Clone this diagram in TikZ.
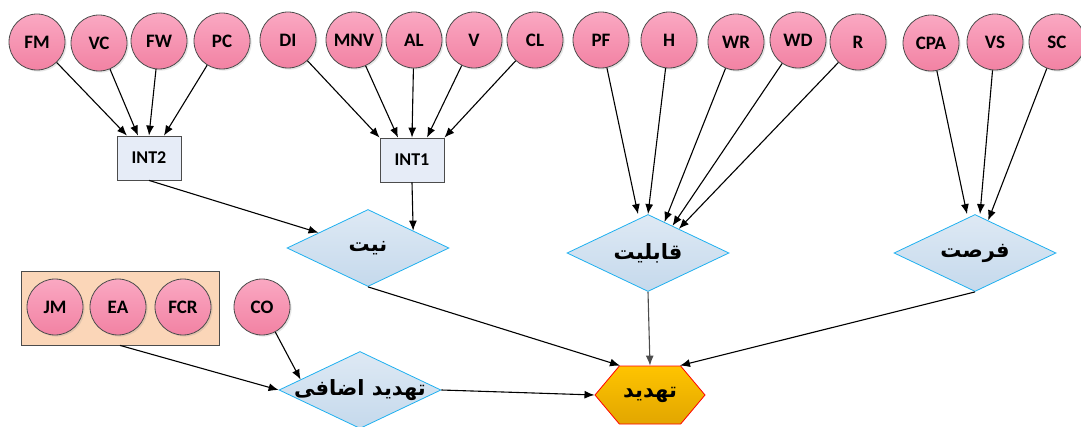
\documentclass[tikz,border=0pt]{standalone}
\usepackage{fontspec}
\setmainfont{Carlito}
\newfontfamily\farsi[Script=Arabic]{DejaVu Sans}
\TeXXeTstate=1
\usetikzlibrary{shapes,shadows,arrows.meta}
\definecolor{pinktop}{RGB}{250,168,194}
\definecolor{pinkbot}{RGB}{242,130,163}
\definecolor{intfill}{RGB}{230,236,247}
\definecolor{dmtop}{RGB}{222,233,244}
\definecolor{dmbot}{RGB}{197,217,236}
\definecolor{dmline}{RGB}{30,176,240}
\definecolor{hxtop}{RGB}{255,196,0}
\definecolor{hxbot}{RGB}{226,166,0}
\definecolor{peach}{RGB}{251,214,184}

\begin{document}
\begin{tikzpicture}[x=0.5pt,y=-0.5pt,>={Latex[length=5pt,width=4pt]}]
\tikzstyle{var}=[circle,draw=black!70,top color=pinktop,bottom color=pinkbot,minimum size=28pt,inner sep=0pt,font=\bfseries\fontsize{9.5}{11}\selectfont,drop shadow={opacity=0.2,shadow xshift=0.8pt,shadow yshift=-0.8pt}]
\tikzstyle{intbox}=[rectangle,draw=black!70,fill=intfill,minimum width=32pt,minimum height=22pt,font=\bfseries\fontsize{9}{11}\selectfont]
\tikzstyle{factor}=[diamond,aspect=2.1,draw=dmline,top color=dmtop,bottom color=dmbot,minimum width=81pt,minimum height=38.5pt,inner sep=0pt,inner xsep=-8pt,font=\farsi\bfseries\fontsize{10.5}{12}\selectfont]
\tikzstyle{threat}=[signal,signal to=east and west,signal pointer angle=100,draw=red,top color=hxtop,bottom color=hxbot,minimum width=55pt,minimum height=29pt,inner sep=0pt,font=\farsi\bfseries\fontsize{10.5}{12}\selectfont]
\tikzstyle{grpbox}=[rectangle,draw=black!70,fill=peach,minimum width=99pt,minimum height=37pt]
\tikzstyle{link}=[->,line width=0.55pt]
\useasboundingbox (0,0) rectangle (1081,427);

\node[var] (fm) at (37,42) {FM};
\node[var] (vc) at (99,43) {VC};
\node[var] (fw) at (159,41) {FW};
\node[var] (pc) at (222,41) {PC};
\node[var] (di) at (288,40) {DI};
\node[var] (mnv) at (354,40) {MNV};
\node[var] (al) at (414,40) {AL};
\node[var] (v) at (474,40) {V};
\node[var] (cl) at (535,40) {CL};
\node[var] (pf) at (601,40) {PF};
\node[var] (h) at (669,40) {H};
\node[var] (wr) at (736,42) {WR};
\node[var] (wd) at (798,40) {WD};
\node[var] (r) at (858,42) {R};
\node[var] (cpa) at (931,43) {CPA};
\node[var] (vs) at (995,42) {VS};
\node[var] (sc) at (1057,42) {SC};

\node[intbox] (int2) at (149,158) {INT2};
\node[intbox] (int1) at (412,160) {INT1};

\node[factor] (niyat) at (368,248) {\beginR نیت\endR};
\node[factor] (ghabel) at (648,253) {\beginR قابلیت\endR};
\node[factor] (forsat) at (975,253) {\beginR فرصت\endR};
\node[factor] (ezafi) at (360,390) {\beginR تهدید اضافی\endR};
\node[threat] (tahdid) at (650,395) {\beginR تهدید\endR};

\node[grpbox] (grp) at (120,308) {};
\node[var] (jm) at (55,307) {JM};
\node[var] (ea) at (118,307) {EA};
\node[var] (fcr) at (183,307) {FCR};
\node[var] (co) at (262,307) {CO};

\draw[link] (fm) -- ([xshift=-11pt]int2.north);
\draw[link] (vc) -- ([xshift=-5.5pt]int2.north);
\draw[link] (fw) -- (int2.north);
\draw[link] (pc) -- ([xshift=7.5pt]int2.north);
\draw[link] (di) -- (int1.north west);
\draw[link] (mnv) -- ([xshift=-7pt]int1.north);
\draw[link] (al) -- (int1.north);
\draw[link] (v) -- ([xshift=7.5pt]int1.north);
\draw[link] (cl) -- (int1.north east);
\draw[link] (pf) -- ([xshift=-5pt]ghabel.north);
\draw[link] (h) -- (ghabel.north);
\draw[link] (wr) -- (ghabel.62);
\draw[link] (wd) -- (ghabel.48);
\draw[link] (r) -- (ghabel.38);
\draw[link] (cpa) -- ([xshift=-4pt]forsat.north);
\draw[link] (vs) -- ([xshift=2.5pt]forsat.north);
\draw[link] (sc) -- (forsat.68);
\draw[link] (int2.south) -- (niyat);
\draw[link] (int1.south) -- (niyat.21.5);
\draw[link] (grp.south) -- (ezafi.west);
\draw[link] (co) -- (ezafi.170);
\draw[link] (ezafi.east) -- (tahdid.west);
\draw[link] (niyat.south) -- ([xshift=-15pt]tahdid.north);
\draw[link,black!70] (ghabel.south) -- (tahdid.north);
\draw[link] (forsat.south) -- ([xshift=15pt]tahdid.north);
\end{tikzpicture}
\end{document}
